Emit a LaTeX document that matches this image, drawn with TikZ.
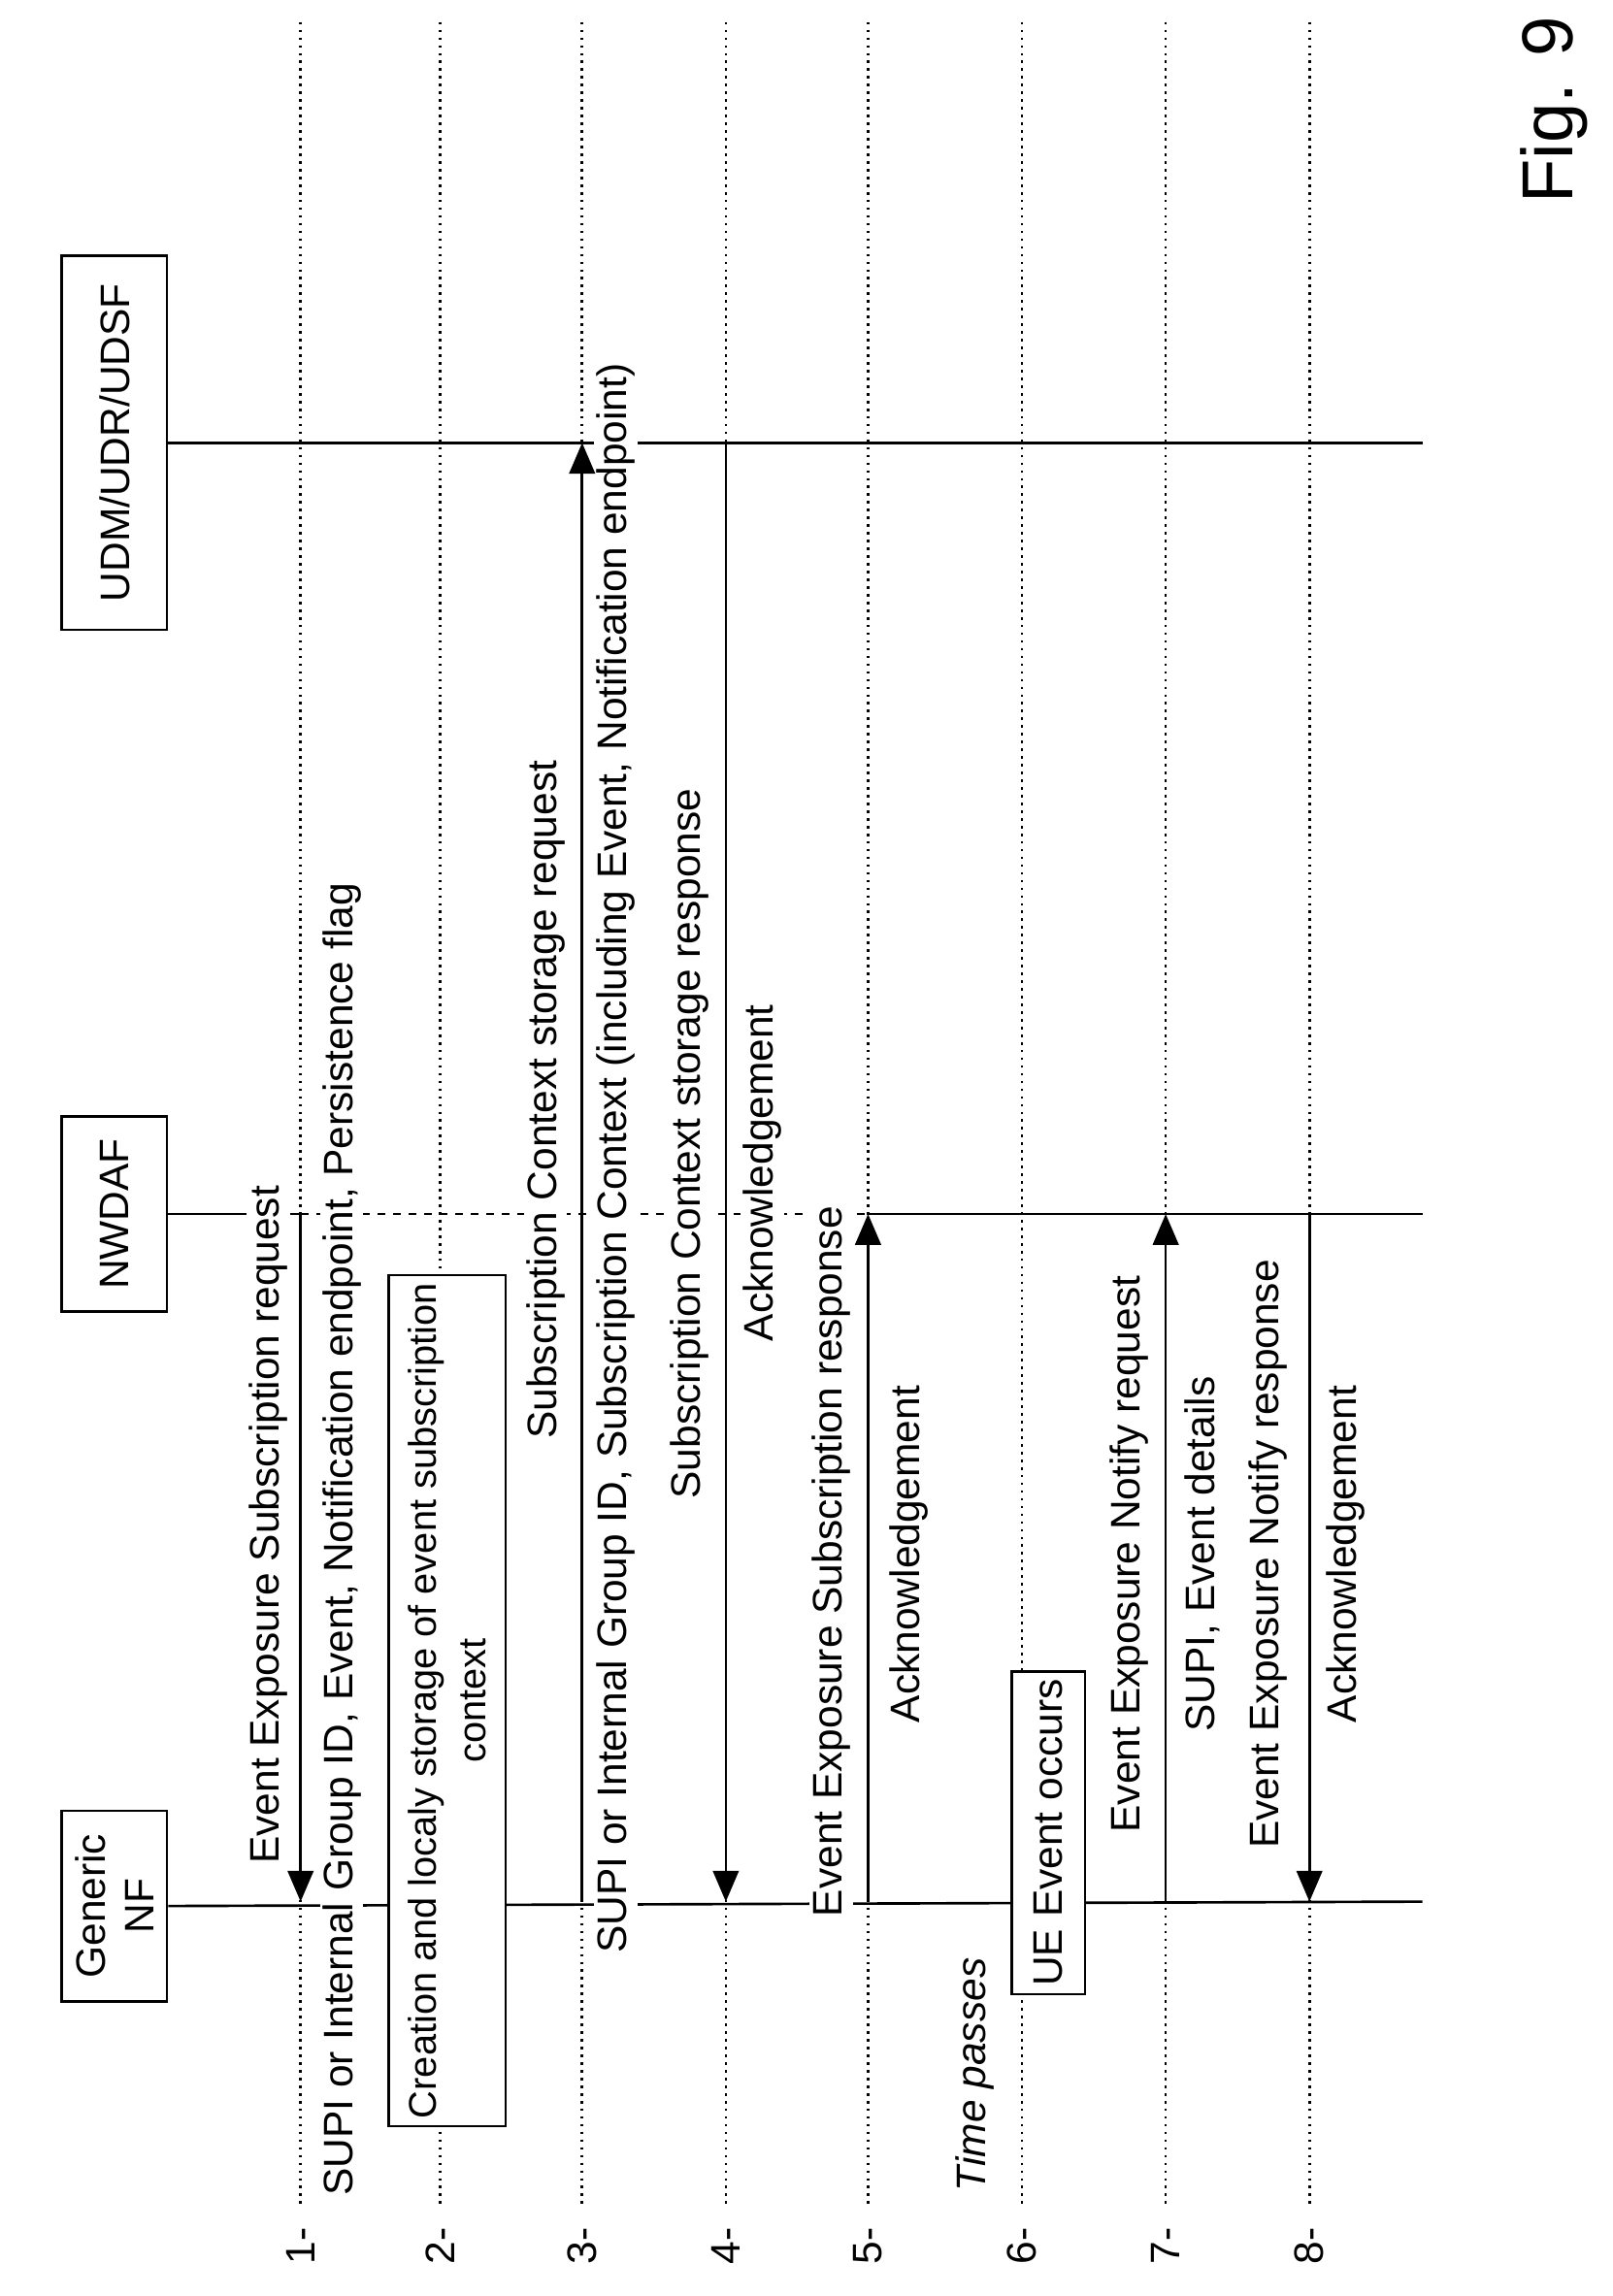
\documentclass[tikz,border=0pt]{standalone}
\usepackage{fontspec}
\setmainfont{Liberation Sans}
\usetikzlibrary{arrows.meta}
\begin{document}
\begin{tikzpicture}[x=0.02cm,y=-0.02cm,
  every node/.style={font=\fontsize{16}{19}\selectfont},
  lbl/.style={rotate=90,fill=white,inner sep=1pt},
  ent/.style={draw,line width=0.9pt,rotate=90,align=center,minimum width=#1,minimum height=72*0.02cm,inner sep=2pt},
  ent/.default=100,
  dot/.style={dotted,line width=1pt},
  life/.style={line width=1pt},
  msg/.style={line width=1pt,-{Triangle[length=12pt,width=10pt]}},
  stepbox/.style={draw,line width=0.9pt,fill=white,rotate=90,align=center,inner sep=3pt}]
\useasboundingbox (0,0) rectangle (1100,1566);
% step dotted lines and numbers
\foreach \i/\x in {1/205,2/300,3/397,4/495,5/592,6/697,7/795,8/893}{
  \draw[dot] (\x,15) -- (\x,1505);
  \node[rotate=90] (n\i) at (\x,1532) {\i-};
}
% entities
\node[ent=130*0.02cm] (gnf) at (78,1300) {Generic\\NF};
\node[ent=133*0.02cm] (nwdaf) at (78,828) {NWDAF};
\node[ent=255*0.02cm] (udm) at (78,302) {UDM/UDR/UDSF};
% lifelines
\coordinate (g1) at (970,1297);
\coordinate (w1) at (970,828);
\coordinate (u1) at (970,302);
\draw[life] (gnf.south) -- (g1);
\draw[life] (nwdaf.south) -- (205,828);
\draw[life,dashed] (205,828) -- (592,828);
\draw[life] (592,828) -- (w1);
\draw[life] (udm.south) -- (u1);
% arrow endpoints
\foreach \x in {205,397,495,592,795,893}{
  \coordinate (G\x) at (\x,1297); \coordinate (W\x) at (\x,828); \coordinate (U\x) at (\x,302);}
% labels
\node[lbl] (l1a) at (183,1040) {Event Exposure Subscription request};
\node[lbl] (l1b) at (233,1050) {SUPI or Internal Group ID, Event, Notification endpoint, Persistence flag};
\node[stepbox,minimum width=560*0.02cm,minimum height=80*0.02cm,font=\fontsize{15}{19}\selectfont] (s2) at (305,1160) {Creation and localy storage of event subscription\\context};
\node[lbl] (l3a) at (372,750) {Subscription Context storage request};
\node[lbl] (l3b) at (420,790) {SUPI or Internal Group ID, Subscription Context (including Event, Notification endpoint)};
\node[lbl] (l4a) at (470,780) {Subscription Context storage response};
\node[lbl] (l4b) at (520,800) {Acknowledgement};
\node[lbl] (l5a) at (567,1065) {Event Exposure Subscription response};
\node[lbl] (l5b) at (620,1060) {Acknowledgement};
\node[lbl,font=\fontsize{16}{19}\selectfont\itshape] (tp) at (665,1415) {Time passes};
\node[stepbox,minimum width=140*0.02cm,minimum height=50*0.02cm] (s6) at (715,1250) {UE Event occurs};
\node[lbl] (l7a) at (770,1060) {Event Exposure Notify request};
\node[lbl] (l7b) at (820,1060) {SUPI, Event details};
\node[lbl] (l8a) at (865,1060) {Event Exposure Notify response};
\node[lbl] (l8b) at (918,1060) {Acknowledgement};
% messages
\draw[msg] (W205) -- (G205);
\draw[msg] (G397) -- (U397);
\draw[msg] (U495) -- (G495);
\draw[msg] (G592) -- (W592);
\draw[msg] (G795) -- (W795);
\draw[msg] (W893) -- (G893);
\node[rotate=90,font=\fontsize{28}{32}\selectfont] (fig) at (1060,75) {Fig. 9};
\end{tikzpicture}
\end{document}
